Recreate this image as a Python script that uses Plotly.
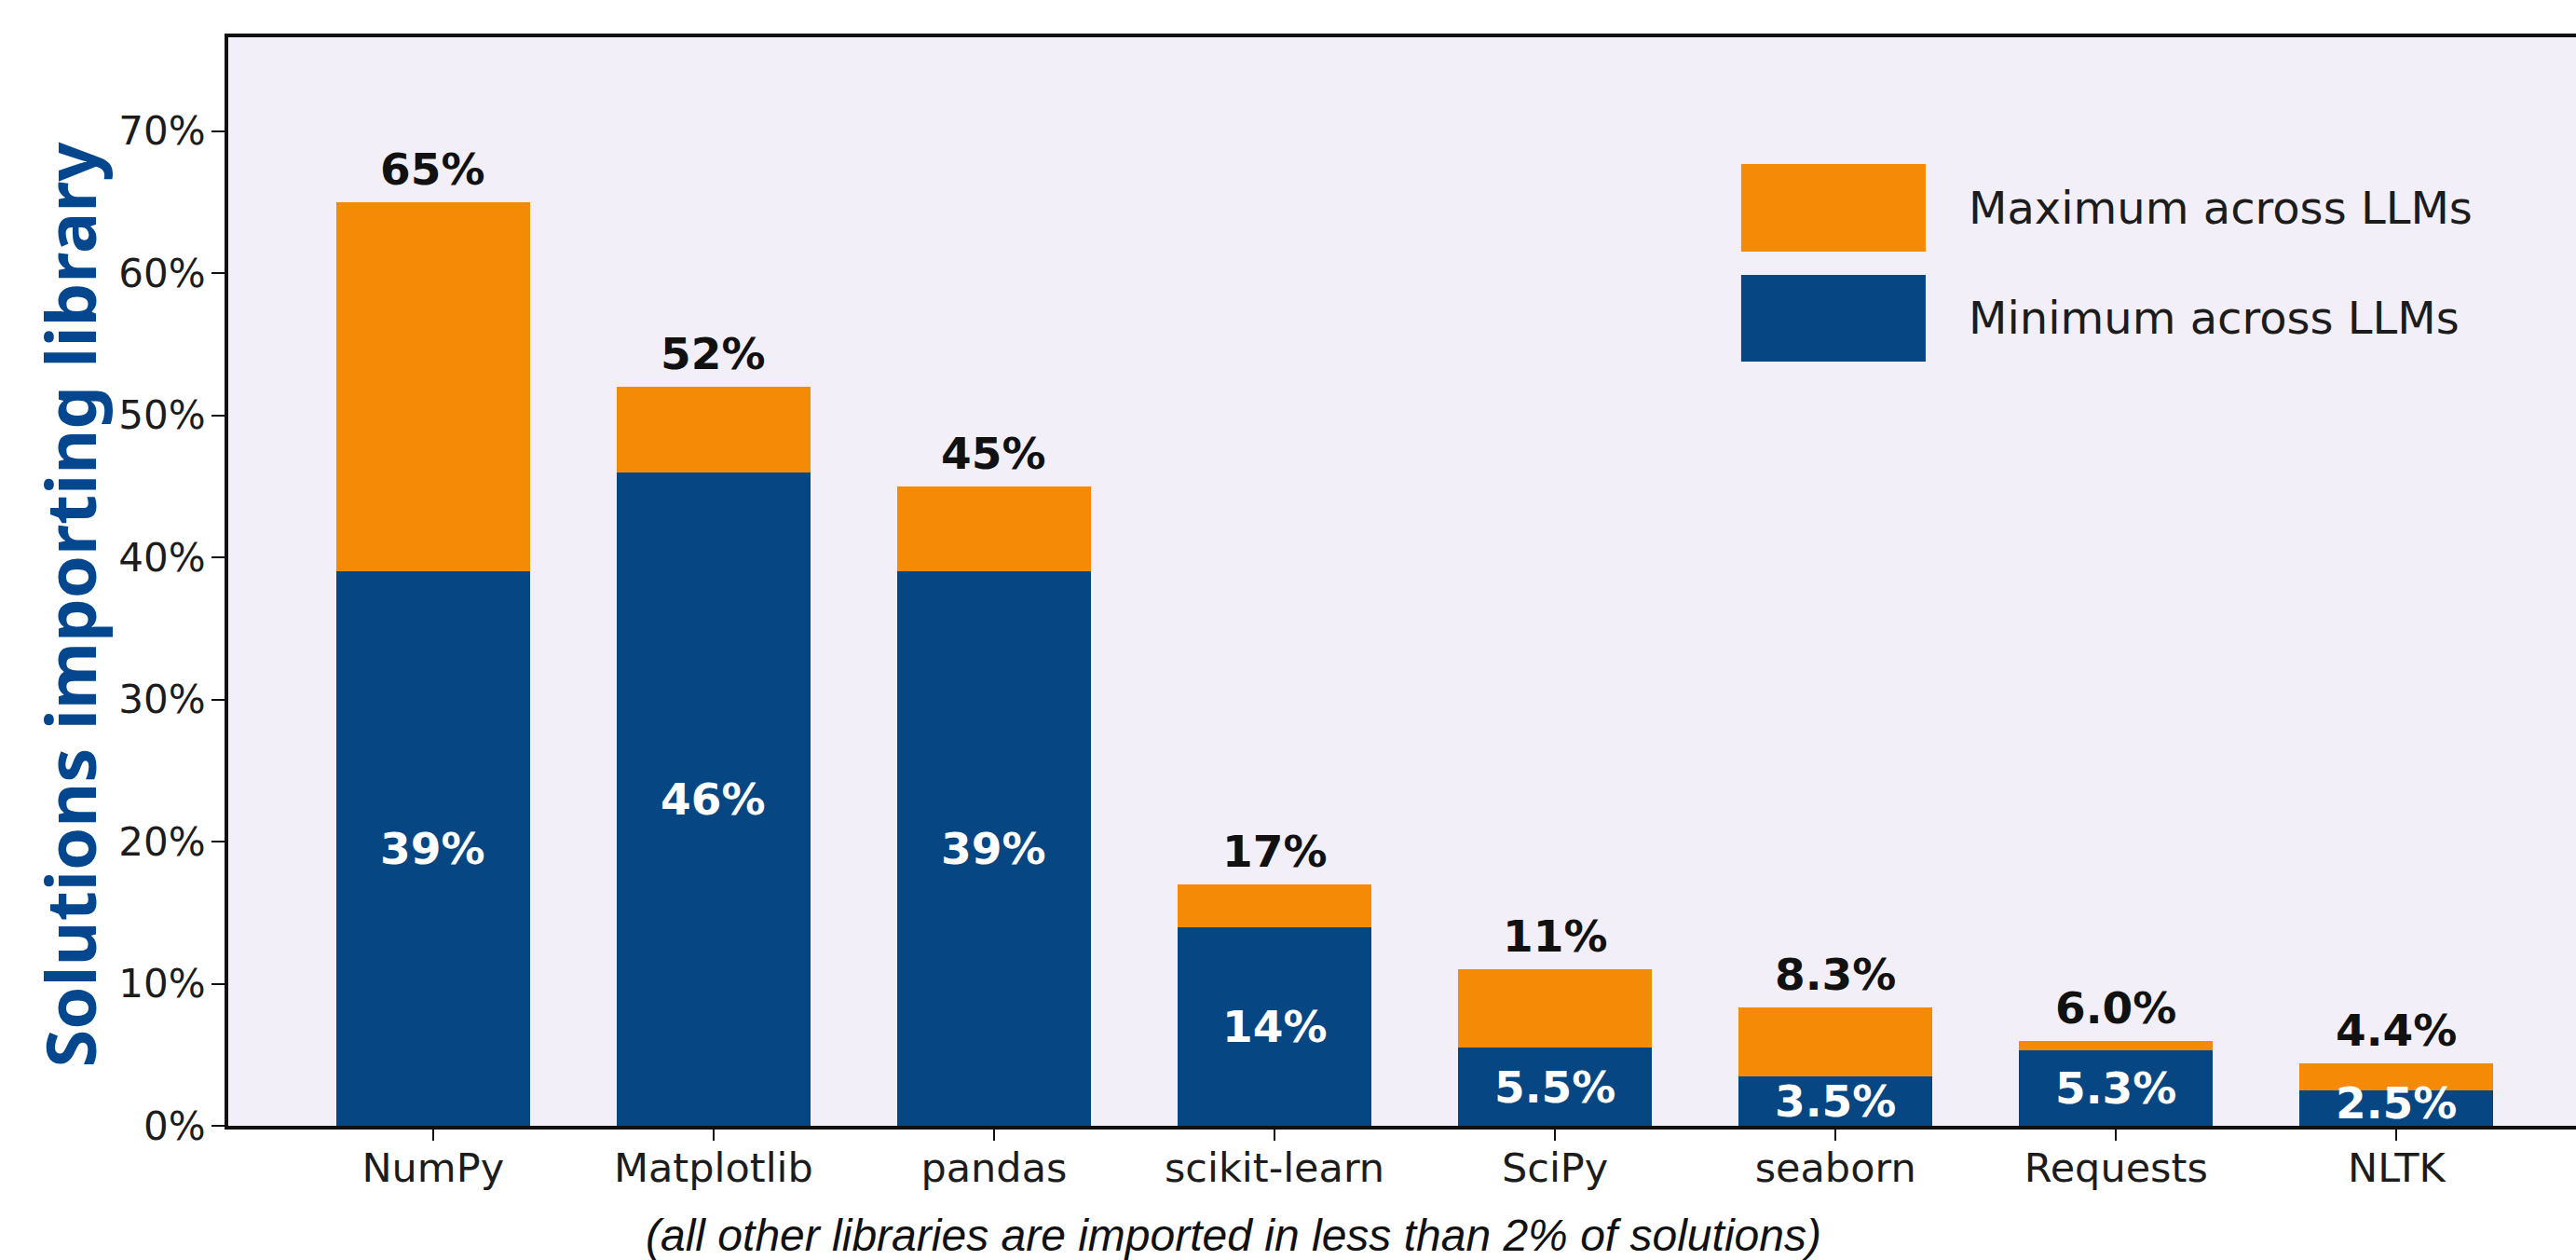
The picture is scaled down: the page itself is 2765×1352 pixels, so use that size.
import plotly.graph_objects as go

libraries = ["NumPy", "Matplotlib", "pandas", "scikit-learn", "SciPy", "seaborn", "Requests", "NLTK"]
min_share = [39, 46, 39, 14, 5.5, 3.5, 5.3, 2.5]
max_share = [65, 52, 45, 17, 11, 8.3, 6.0, 4.4]
y_ticks = [0, 10, 20, 30, 40, 50, 60, 70]
y_tick_labels = ["0%", "10%", "20%", "30%", "40%", "50%", "60%", "70%"]
legend_labels = ["Maximum across LLMs", "Minimum across LLMs"]

ORANGE = "#F58A07"
BLUE = "#064682"
BG = "#F3EFF9"
TXT = "#1c1c1c"

W, H = 2765, 1352
ML, MR, MT, MB = 245, 0, 40, 144
pw = W - ML - MR


def fmt(v):
    return f"{v:.0f}%" if v >= 10 else f"{v:.1f}%"


x = list(range(len(libraries)))
extra = [mx - mn for mx, mn in zip(max_share, min_share)]

fig = go.Figure()
fig.add_trace(go.Bar(x=x, y=min_share, marker=dict(color=BLUE, line=dict(width=0)),
                     width=0.69, name=legend_labels[1], showlegend=False))
fig.add_trace(go.Bar(x=x, y=extra, marker=dict(color=ORANGE, line=dict(width=0)),
                     width=0.69, name=legend_labels[0], showlegend=False))

annotations = []
for i, (mn, mx) in enumerate(zip(min_share, max_share)):
    annotations.append(dict(x=i, y=mx, xref="x", yref="y", text=fmt(mx), showarrow=False,
                            yanchor="bottom", yshift=6,
                            font=dict(family="DejaVu Sans", size=47, color="#111111", weight="bold")))
    annotations.append(dict(x=i, y=max(mn / 2, 1.6), xref="x", yref="y", text=fmt(mn), showarrow=False,
                            yanchor="middle",
                            font=dict(family="DejaVu Sans", size=47, color="white", weight="bold")))

# manual legend (large swatches)
shapes = [
    dict(type="rect", xref="paper", yref="paper", x0=0.6444, x1=0.7230, y0=0.8031, y1=0.8836,
         fillcolor=ORANGE, line=dict(width=0)),
    dict(type="rect", xref="paper", yref="paper", x0=0.6444, x1=0.7230, y0=0.7021, y1=0.7817,
         fillcolor=BLUE, line=dict(width=0)),
]
annotations.append(dict(x=0.7405, y=0.8433, xref="paper", yref="paper", text=legend_labels[0],
                        showarrow=False, xanchor="left", yanchor="middle",
                        font=dict(family="DejaVu Sans", size=48, color=TXT)))
annotations.append(dict(x=0.7405, y=0.7423, xref="paper", yref="paper", text=legend_labels[1],
                        showarrow=False, xanchor="left", yanchor="middle",
                        font=dict(family="DejaVu Sans", size=48, color=TXT)))

# y-axis title
annotations.append(dict(x=(75 - ML) / pw, y=0.479, xref="paper", yref="paper",
                        text="<b>Solutions importing library</b>",
                        showarrow=False, textangle=-90, xanchor="center", yanchor="middle",
                        font=dict(family="Noto Sans", size=74, color="#04478F", weight=900)))
# subtitle
annotations.append(dict(x=0.428, y=-0.101, xref="paper", yref="paper",
                        text="<i>(all other libraries are imported in less than 2% of solutions)</i>",
                        showarrow=False, xanchor="center", yanchor="middle",
                        font=dict(family="Liberation Sans", size=48, color="#111111")))

fig.update_layout(
    width=W, height=H,
    margin=dict(l=ML, r=MR, t=MT, b=MB),
    paper_bgcolor="white", plot_bgcolor=BG,
    barmode="stack", bargap=0,
    showlegend=False,
    annotations=annotations, shapes=shapes,
    xaxis=dict(range=[-0.73, 7.64], tickvals=x, ticktext=libraries,
               showgrid=False, zeroline=False, showline=True, linecolor="#111111", linewidth=4,
               mirror=True, ticks="outside", ticklen=12, tickwidth=2, tickcolor="#111111",
               ticklabelstandoff=-8,
               tickfont=dict(family="DejaVu Sans", size=43, color=TXT)),
    yaxis=dict(range=[0, 76.6], tickvals=y_ticks, ticktext=y_tick_labels,
               showgrid=False, zeroline=False, showline=True, linecolor="#111111", linewidth=4,
               ticks="outside", ticklen=14, tickwidth=2, tickcolor="#111111",
               ticklabelstandoff=-2,
               tickfont=dict(family="DejaVu Sans", size=42, color=TXT)),
)

fig.write_html("out.html", config={"displayModeBar": False},
               post_script="document.body.style.margin='0';")
